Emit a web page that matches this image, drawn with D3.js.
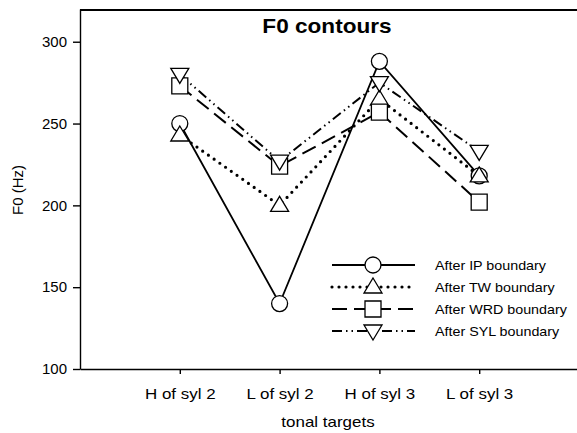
<!DOCTYPE html>
<html>
<head>
<meta charset="utf-8">
<script src="https://cdn.jsdelivr.net/npm/d3@7"></script>
<style>
  body { margin: 0; background: #fff; }
  svg { display: block; font-family: "Liberation Sans", Arial, sans-serif; }
</style>
</head>
<body>
<div id="chart"></div>
<script>
// data
var categories = ["H of syl 2", "L of syl 2", "H of syl 3", "L of syl 3"];
var seriesNames = ["After IP boundary", "After TW boundary", "After WRD boundary", "After SYL boundary"];
var ipValues = [250, 140, 288, 218];
var twValues = [243, 200, 265, 218];
var wrdValues = [273, 224, 257, 202];
var sylValues = [280, 227, 275, 233];
var yTicks = [100, 150, 200, 250, 300];

var width = 577, height = 433;
var plotLeft = 80, plotRight = 579, plotTop = 9, plotBottom = 369;

var svg = d3.select("#chart").append("svg")
    .attr("width", width)
    .attr("height", height);

var x = d3.scaleLinear().domain([0, 5]).range([plotLeft, plotRight]);
var y = d3.scaleLinear().domain([100, 320]).range([plotBottom, plotTop]);

// marker shapes
function markerPath(kind) {
    if (kind == "circle") {
        var p = d3.path();
        p.arc(0, 0, 8, 0, 2 * Math.PI);
        p.closePath();
        return p.toString();
    }
    if (kind == "up") return "M0,-9L9,6L-9,6Z";
    if (kind == "square") return "M-8,-8H8V8H-8Z";
    if (kind == "down") return "M0,9L9,-6L-9,-6Z";
}

var series = [
    { name: seriesNames[0], values: ipValues, marker: "circle", dash: null, w: 1.8, cap: "butt" },
    { name: seriesNames[1], values: twValues, marker: "up", dash: "0,7", w: 3.2, cap: "round" },
    { name: seriesNames[2], values: wrdValues, marker: "square", dash: "15,7", w: 2, cap: "butt" },
    { name: seriesNames[3], values: sylValues, marker: "down", dash: "10,4,1.5,4,1.5,4", w: 2, cap: "butt" }
];

// frame top line
svg.append("line")
    .attr("x1", plotLeft).attr("x2", width)
    .attr("y1", plotTop + 1).attr("y2", plotTop + 1)
    .attr("stroke", "#000").attr("stroke-width", 2);

// axes
var yAxis = svg.append("g")
    .attr("transform", "translate(" + plotLeft + ",0)")
    .call(d3.axisLeft(y).tickValues(yTicks).tickSize(7).tickSizeOuter(0));
yAxis.selectAll("text")
    .attr("x", -13)
    .attr("font-size", "15px")
    .attr("fill", "#000")
    .style("font-family", "Liberation Sans, Arial, sans-serif");

var xAxis = svg.append("g")
    .attr("transform", "translate(0," + plotBottom + ")")
    .call(d3.axisBottom(x).tickValues([1, 2, 3, 4])
        .tickFormat(function (d) { return categories[d - 1]; })
        .tickSize(5).tickSizeOuter(0));
xAxis.selectAll("text")
    .attr("y", 30).attr("dy", 0)
    .attr("font-size", "15px")
    .attr("fill", "#000")
    .attr("transform", "scale(1.13,1)")
    .style("font-family", "Liberation Sans, Arial, sans-serif");

svg.selectAll(".domain, .tick line").attr("stroke", "#000").attr("stroke-width", 1.4);

// titles
svg.append("text")
    .attr("transform", "translate(327,33) scale(1.13,1)")
    .attr("text-anchor", "middle")
    .attr("font-size", "20px")
    .attr("font-weight", "bold")
    .text("F0 contours");

svg.append("text")
    .attr("transform", "translate(328,427) scale(1.13,1)")
    .attr("text-anchor", "middle")
    .attr("font-size", "15px")
    .text("tonal targets");

svg.append("text")
    .attr("transform", "translate(23,190) rotate(-90)")
    .attr("text-anchor", "middle")
    .attr("font-size", "15px")
    .text("F0 (Hz)");

// lines
var line = d3.line()
    .x(function (d, i) { return x(i + 1); })
    .y(function (d) { return y(d); });

series.forEach(function (s) {
    svg.append("path")
        .datum(s.values)
        .attr("d", line)
        .attr("fill", "none")
        .attr("stroke", "#000")
        .attr("stroke-width", s.w)
        .attr("stroke-linecap", s.cap)
        .attr("stroke-dasharray", s.dash);
});

// markers
series.forEach(function (s) {
    svg.append("g").selectAll("path")
        .data(s.values)
        .enter().append("path")
        .attr("transform", function (d, i) { return "translate(" + x(i + 1) + "," + y(d) + ")"; })
        .attr("d", markerPath(s.marker))
        .attr("fill", "#fff")
        .attr("stroke", "#000")
        .attr("stroke-width", 1.3);
});

// legend
var legend = svg.append("g").attr("transform", "translate(332,265)");
var rows = legend.selectAll("g")
    .data(series)
    .enter().append("g")
    .attr("transform", function (d, i) { return "translate(0," + (i * 22) + ")"; });

rows.append("line")
    .attr("x1", 0).attr("x2", 83)
    .attr("stroke", "#000")
    .attr("stroke-width", function (d) { return d.w; })
    .attr("stroke-linecap", function (d) { return d.cap; })
    .attr("stroke-dasharray", function (d) { return d.dash; });

rows.append("path")
    .attr("transform", "translate(41,0)")
    .attr("d", function (d) { return markerPath(d.marker); })
    .attr("fill", "#fff")
    .attr("stroke", "#000")
    .attr("stroke-width", 1.3);

rows.append("text")
    .attr("transform", "translate(103,0) scale(1.1,1)")
    .attr("dy", "0.35em")
    .attr("font-size", "13px")
    .text(function (d) { return d.name; });
</script>
</body>
</html>
